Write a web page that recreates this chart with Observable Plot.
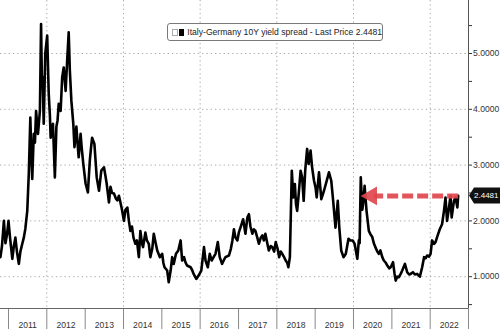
<!DOCTYPE html>
<html><head><meta charset="utf-8">
<script src="https://cdn.jsdelivr.net/npm/d3@7"></script>
<script src="https://cdn.jsdelivr.net/npm/@observablehq/plot@0.6"></script>
<style>
body{margin:0;background:#fff;}
#wrap{position:relative;width:500px;height:329px;overflow:hidden;}
#legend{position:absolute;left:167px;top:23px;width:214px;height:16px;border:1px solid #7a7a7a;border-radius:3px;background:#fff;font:8.6px "Liberation Sans",Arial,sans-serif;color:#222;display:flex;align-items:center;white-space:nowrap;}
#legend .ic{display:inline-block;width:5px;height:5px;border:1px solid #aaa;margin-left:4px;margin-right:1px;position:relative;}
#legend .sq{display:inline-block;width:7px;height:7px;background:#000;margin-right:3px;}
</style></head><body>
<div id="wrap"><div id="legend"><span class="ic"></span><span class="sq"></span>Italy-Germany 10Y yield spread - Last Price 2.4481</div></div>
<script>
// decimal year of each observation
const years = [2010.79,2010.83,2010.88,2010.92,2010.96,2011.00,2011.04,2011.10,2011.14,2011.18,2011.22,2011.27,2011.31,2011.36,2011.40,2011.44,2011.49,2011.53,2011.57,2011.60,2011.62,2011.66,2011.69,2011.72,2011.77,2011.82,2011.85,2011.87,2011.89,2011.92,2011.96,2012.01,2012.05,2012.08,2012.10,2012.13,2012.16,2012.21,2012.25,2012.28,2012.31,2012.36,2012.40,2012.44,2012.49,2012.53,2012.57,2012.60,2012.64,2012.69,2012.72,2012.77,2012.80,2012.83,2012.88,2012.91,2012.95,2013.01,2013.07,2013.12,2013.15,2013.18,2013.24,2013.30,2013.36,2013.42,2013.49,2013.53,2013.56,2013.62,2013.66,2013.70,2013.75,2013.80,2013.84,2013.88,2013.92,2013.96,2014.01,2014.05,2014.10,2014.14,2014.18,2014.22,2014.26,2014.31,2014.35,2014.40,2014.44,2014.48,2014.51,2014.57,2014.61,2014.66,2014.70,2014.75,2014.79,2014.84,2014.88,2014.95,2015.01,2015.04,2015.07,2015.14,2015.18,2015.23,2015.27,2015.31,2015.37,2015.43,2015.49,2015.53,2015.58,2015.62,2015.66,2015.75,2015.79,2015.83,2015.90,2015.96,2016.03,2016.10,2016.14,2016.20,2016.25,2016.30,2016.35,2016.40,2016.46,2016.51,2016.57,2016.62,2016.66,2016.75,2016.80,2016.84,2016.88,2016.92,2016.97,2017.01,2017.05,2017.12,2017.18,2017.23,2017.27,2017.31,2017.36,2017.40,2017.44,2017.49,2017.53,2017.58,2017.62,2017.66,2017.70,2017.75,2017.79,2017.84,2017.88,2017.93,2017.97,2018.02,2018.06,2018.10,2018.14,2018.19,2018.23,2018.27,2018.30,2018.34,2018.39,2018.43,2018.47,2018.50,2018.53,2018.57,2018.62,2018.66,2018.70,2018.74,2018.79,2018.83,2018.88,2018.92,2018.97,2019.01,2019.04,2019.10,2019.16,2019.23,2019.29,2019.36,2019.42,2019.47,2019.53,2019.59,2019.63,2019.68,2019.74,2019.80,2019.87,2019.92,2019.98,2020.03,2020.10,2020.14,2020.16,2020.19,2020.23,2020.26,2020.29,2020.34,2020.40,2020.45,2020.49,2020.53,2020.57,2020.62,2020.66,2020.70,2020.75,2020.79,2020.84,2020.88,2020.93,2020.97,2021.03,2021.07,2021.10,2021.14,2021.18,2021.23,2021.27,2021.34,2021.40,2021.45,2021.49,2021.55,2021.60,2021.66,2021.73,2021.79,2021.84,2021.88,2021.92,2021.97,2022.01,2022.05,2022.10,2022.14,2022.18,2022.25,2022.31,2022.36,2022.40,2022.44,2022.48,2022.53,2022.56,2022.62,2022.66,2022.71,2022.73];
// spread, percentage points
const spread = [1.35,1.55,2.00,1.60,1.75,2.00,1.70,1.32,1.55,1.70,1.45,1.23,1.45,1.59,1.70,1.86,2.18,2.85,3.85,3.10,2.75,3.56,3.40,3.97,3.56,3.97,5.53,4.60,4.57,3.74,5.00,5.32,4.28,3.90,3.49,3.60,3.74,2.78,3.69,3.80,4.10,3.97,4.57,4.75,4.33,4.87,5.38,4.69,4.15,3.74,3.32,3.69,3.40,3.14,3.56,3.30,3.02,2.67,2.51,3.08,3.30,3.49,3.38,2.78,2.54,2.90,2.96,2.80,2.67,2.33,2.61,2.50,2.49,2.40,2.37,2.45,2.33,2.20,2.00,2.20,2.24,2.00,1.82,1.90,1.70,1.59,1.65,1.35,1.82,1.60,1.53,1.79,1.65,1.59,1.35,1.50,1.77,1.60,1.47,1.35,1.41,1.25,1.17,1.11,0.90,1.11,1.35,1.23,1.41,1.47,1.65,1.29,1.35,1.25,1.20,1.17,1.12,1.05,0.96,1.02,1.11,1.53,1.29,1.17,1.41,1.29,1.35,1.41,1.62,1.35,1.23,1.30,1.35,1.38,1.50,1.65,1.85,1.70,1.65,1.80,1.88,2.03,1.77,2.06,2.12,1.90,1.77,1.85,1.82,1.70,1.59,1.70,1.74,1.65,1.77,1.60,1.47,1.55,1.53,1.45,1.62,1.50,1.35,1.45,1.41,1.35,1.29,1.25,1.17,1.35,2.90,2.42,2.66,2.30,2.18,2.48,2.90,2.78,2.36,2.90,3.29,3.02,3.26,2.96,2.72,2.60,2.42,2.87,2.39,2.54,2.69,2.87,2.72,2.36,1.88,2.36,1.88,1.47,1.35,1.41,1.68,1.65,1.65,1.59,1.32,1.65,1.60,2.78,2.20,2.36,2.63,2.18,1.82,1.75,1.71,1.60,1.53,1.45,1.41,1.47,1.35,1.29,1.25,1.20,1.15,1.17,1.26,1.05,0.93,1.00,0.99,1.05,1.11,1.23,1.08,1.04,1.05,1.08,1.04,1.05,1.00,1.17,1.35,1.33,1.38,1.36,1.41,1.65,1.59,1.62,1.71,1.85,1.94,2.18,2.42,2.00,2.18,2.45,2.06,2.36,2.42,2.24,2.4481];
const lastPrice = 2.4481;
const yearLabels = [2011,2012,2013,2014,2015,2016,2017,2018,2019,2020,2021,2022];
const yearBounds = [2011,2012,2013,2014,2015,2016,2017,2018,2019,2020,2021,2022,2023];
const gridYears = [2012,2014,2016,2018,2020,2022];
const yTicks = [1,2,3,4,5];
const yMinor = [0.5,1.5,2.5,3.5,4.5,5.5];
const arrowTail = 2022.73, arrowHead = 2020.41;

function dec(t){const y=Math.floor(t);const a=Date.UTC(y,0,1),b=Date.UTC(y+1,0,1);return new Date(a+(t-y)*(b-a));}
const data = years.map((t,i)=>({date:dec(t), v:spread[i]}));
const font = '"Liberation Sans", Arial, sans-serif';
const red = "#e0474c";

const plot = Plot.plot({
  width: 500, height: 329,
  marginLeft: 0, marginRight: 32, marginTop: 0, marginBottom: 21,
  style: {fontFamily: font, fontSize: "8.6px", color: "#333", background: "#fff"},
  x: {type: "utc", domain: [dec(2010.7913), dec(2023)]},
  y: {domain: [0.43, 5.95]},
  marks: [
    Plot.gridY(yTicks, {stroke: "#9a9a9a", strokeOpacity: 0.85, strokeDasharray: "1.3,3"}),
    Plot.gridX(gridYears.map(dec), {stroke: "#9a9a9a", strokeOpacity: 0.85, strokeDasharray: "1.3,3"}),
    Plot.axisX(yearBounds.map(dec), {tickSize: 21, tickFormat: () => "", stroke: "#888"}),
    Plot.axisX(yearLabels.map(y => dec(y + 0.5)), {tickSize: 0, tickPadding: 13, tickFormat: d => String(d.getUTCFullYear()), fill: "#333"}),
    Plot.axisY(yTicks, {anchor: "right", tickSize: 3, tickPadding: 1.5, tickFormat: d3.format(".4f"), stroke: "#333", fill: "#333"}),
    Plot.axisY(yMinor, {anchor: "right", tickSize: 3, tickFormat: () => "", stroke: "#333"}),
    Plot.ruleY([0.43], {stroke: "#666"}),
    Plot.ruleX([dec(2023)], {stroke: "#555"}),
    Plot.lineY(data, {x: "date", y: "v", stroke: "#000", strokeWidth: 2.6, strokeLinejoin: "round"}),
    Plot.link([{x1: dec(arrowTail), x2: dec(arrowHead + 0.12), y: lastPrice}], {x1: "x1", x2: "x2", y1: "y", y2: "y", stroke: red, strokeWidth: 5, strokeDasharray: "11,4", strokeOpacity: 0.92}),
    Plot.dot([{x: dec(arrowHead + 0.06), y: lastPrice}], {x: "x", y: "y", symbol: "triangle", r: 7, rotate: -90, fill: red, fillOpacity: 0.92, stroke: "none"})
  ]
});
document.getElementById("wrap").prepend(plot);

// last-price tag on the right axis
const sy = plot.scale("y").apply(lastPrice);
const sx = plot.scale("x").apply(dec(2023));
const g = d3.select(plot).append("g");
g.append("path")
  .attr("d", `M${sx+1},${sy} L${sx+6},${sy-8} L${sx+32},${sy-8} L${sx+32},${sy+8} L${sx+6},${sy+8} Z`)
  .attr("fill", "#111");
g.append("text").attr("x", sx + 30.5).attr("y", sy).attr("dy", "0.35em")
  .attr("text-anchor", "end").attr("fill", "#fff")
  .style("font", `8px ${font}`).text(lastPrice.toFixed(4));
</script>
</body></html>
